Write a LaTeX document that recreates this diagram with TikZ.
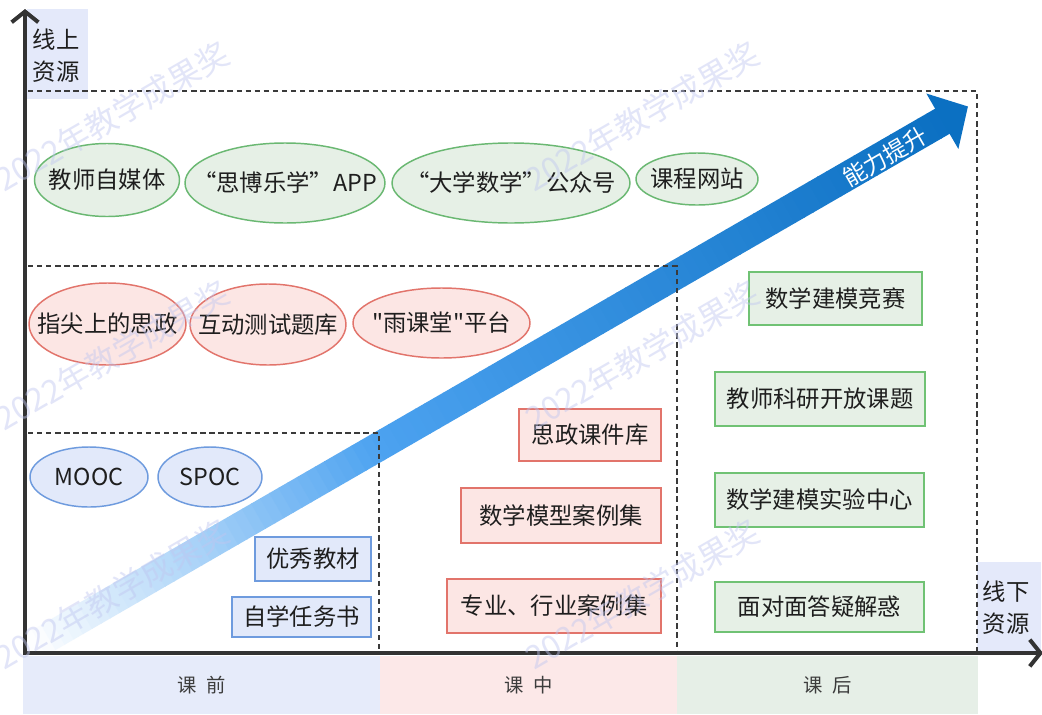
\documentclass[tikz,border=0pt]{standalone}
\usepackage{fontspec}
\setmainfont[Ligatures=TeXOff]{Noto Sans CJK SC}
\usetikzlibrary{shapes.geometric,arrows.meta}
\definecolor{axisc}{HTML}{333333}
\definecolor{dashc}{HTML}{3A3A3A}
\definecolor{txtc}{HTML}{1E1E1E}
\definecolor{gfill}{HTML}{E6F0E6}
\definecolor{gdraw}{HTML}{6AB872}
\definecolor{grdraw}{HTML}{70C274}
\definecolor{rfill}{HTML}{FCE6E4}
\definecolor{rdraw}{HTML}{E2746B}
\definecolor{bfill}{HTML}{E2E9FA}
\definecolor{bdraw}{HTML}{6E9BDE}
\definecolor{labbg}{HTML}{E4E9FA}
\definecolor{bandB}{HTML}{E6EBFA}
\definecolor{bandR}{HTML}{FCE8E8}
\definecolor{bandG}{HTML}{E6EFE7}
\definecolor{arrowA}{HTML}{4CA2F0}
\definecolor{arrowB}{HTML}{0B70C2}
\definecolor{wmc}{HTML}{C0C6F0}
\definecolor{bandtxt}{HTML}{3C3C3C}
\begin{document}
\begin{tikzpicture}[x=0.75pt,y=-0.75pt,
  every node/.style={font=\fontsize{17.5pt}{24pt}\selectfont,text=txtc},
  sz/.style 2 args={minimum width=#1*0.75pt,minimum height=#2*0.75pt},
  ell/.style={ellipse,inner sep=0pt,line width=1.1pt},
  box/.style={rectangle,inner sep=0pt,line width=1.1pt},
  gell/.style={ell,draw=gdraw,fill=gfill},
  rell/.style={ell,draw=rdraw,fill=rfill},
  bell/.style={ell,draw=bdraw,fill=bfill},
  gbox/.style={box,draw=grdraw,fill=gfill},
  rbox/.style={box,draw=rdraw,fill=rfill},
  bbox/.style={box,draw=bdraw,fill=bfill},
  labbox/.style={rectangle,inner sep=0pt,fill=labbg},
  bandbox/.style={rectangle,inner sep=0pt,font=\fontsize{14.5pt}{16pt}\selectfont,text=bandtxt},
  axisline/.style={draw=axisc,line width=3pt,line join=miter,
     {Straight Barb[length=8pt,width=20pt]}-{Straight Barb[length=8pt,width=20pt]}},
  dline/.style={draw=dashc,line width=1.5pt,dash pattern=on 4pt off 2.8pt},
  wm/.style={anchor=base west,rotate=30,font=\fontsize{24pt}{24pt}\selectfont,text=wmc,text opacity=0.45},
  arrtext/.style={rotate=30,text=white,font=\fontsize{17.5pt}{20pt}\selectfont}
]
\useasboundingbox (0,0) rectangle (1042,714);
\fill[white] (0,0) rectangle (1042,714);

% big arrow "能力提升"
\begin{scope}
\clip (27.5,0) rectangle (1042,651);
\begin{scope}[shift={(30,648)},rotate=30]
\foreach \i in {0,...,99}{
  \pgfmathsetmacro\ua{\i*10.542}
  \pgfmathsetmacro\ub{(\i+1)*10.542+0.8}
  \ifnum\i<38
    \pgfmathtruncatemacro\p{(\i+0.5)/38*100}
    \colorlet{stripc}{arrowA!\p!white}
  \else
    \pgfmathtruncatemacro\p{(\i-38+0.5)/62*100}
    \colorlet{stripc}{arrowB!\p!arrowA}
  \fi
  \fill[stripc] (\ua,-14.5) rectangle (\ub,14.5);
}
\fill[arrowB] (1053.5,-32) -- (1083,0) -- (1053.5,32) -- cycle;
\end{scope}
\end{scope}
\node[arrtext] (arrtxt) at (885,157) {能力提升};

% bottom bands
\node[bandbox,fill=bandB,sz={357}{58}] (b1) at (201.5,685) {课\hspace{7pt}前};
\node[bandbox,fill=bandR,sz={297}{58}] (b2) at (528.5,685) {课\hspace{7pt}中};
\node[bandbox,fill=bandG,sz={301}{58}] (b3) at (827.5,685) {课\hspace{7pt}后};

% axis labels backgrounds
\node[labbox,sz={61}{90}] (ylabbg) at (57.5,54) {};
\node[labbox,sz={64}{90}] (xlabbg) at (1009,607) {};

% dashed regions
\draw[dline] (28,91) -- (977,91) -- (977,651);
\draw[dline] (28,266) -- (677,266) -- (677,651);
\draw[dline] (28,433) -- (379,433) -- (379,651);

% axes
\coordinate (O) at (25,653);
\coordinate (ytip) at (25,9);
\coordinate (xtip) at (1043,653);
\draw[axisline] (ytip) -- (O) -- (xtip);

\node[align=left] (ylab) at (56,56) {线上\\资源};
\node[align=left] (xlab) at (1006,608) {线下\\资源};

% online resources (green ellipses)
\node[gell,sz={145}{73}] (e1) at (107,180) {\makebox[0pt]{教师自媒体}};
\node[gell,sz={200}{80}] (e2) at (285,183) {\makebox[0pt]{“思博乐学”APP}};
\node[gell,sz={238}{80}] (e3) at (511,183) {\makebox[0pt]{“大学数学”公众号}};
\node[gell,sz={122}{52}] (e4) at (697,179) {\makebox[0pt]{课程网站}};

% red ellipses
\node[rell,sz={157}{82}] (r1) at (107.5,324) {\makebox[0pt]{指尖上的思政}};
\node[rell,sz={156}{81}] (r2) at (268,324.5) {\makebox[0pt]{互动测试题库}};
\node[rell,sz={177}{70}] (r3) at (441.5,323) {\makebox[0pt]{"雨课堂"平台}};

% blue ellipses
\node[bell,sz={118}{60}] (m1) at (89,477) {\makebox[0pt]{MOOC}};
\node[bell,sz={104}{60}] (m2) at (210,477) {\makebox[0pt]{SPOC}};

% blue boxes
\node[bbox,sz={116}{44}] (bb1) at (313,559) {优秀教材};
\node[bbox,sz={139}{40}] (bb2) at (301.5,617) {自学任务书};

% red boxes
\node[rbox,sz={142}{52}] (rb1) at (590,435) {思政课件库};
\node[rbox,sz={200}{55}] (rb2) at (561,515.5) {数学模型案例集};
\node[rbox,sz={214}{54}] (rb3) at (554,606) {专业、行业案例集};

% green boxes
\node[gbox,sz={173}{53}] (gb1) at (835.5,298.5) {数学建模竞赛};
\node[gbox,sz={210}{54}] (gb2) at (820,399) {教师科研开放课题};
\node[gbox,sz={209}{54}] (gb3) at (819.5,500) {数学建模实验中心};
\node[gbox,sz={209}{50}] (gb4) at (819.5,607) {面对面答疑解惑};

% watermarks
\node[wm] (wm1) at (0,195) {2022年教学成果奖};
\node[wm] (wm2) at (530,195) {2022年教学成果奖};
\node[wm] (wm3) at (0,434) {2022年教学成果奖};
\node[wm] (wm4) at (530,434) {2022年教学成果奖};
\node[wm] (wm5) at (0,673) {2022年教学成果奖};
\node[wm] (wm6) at (530,673) {2022年教学成果奖};
\end{tikzpicture}
\end{document}
